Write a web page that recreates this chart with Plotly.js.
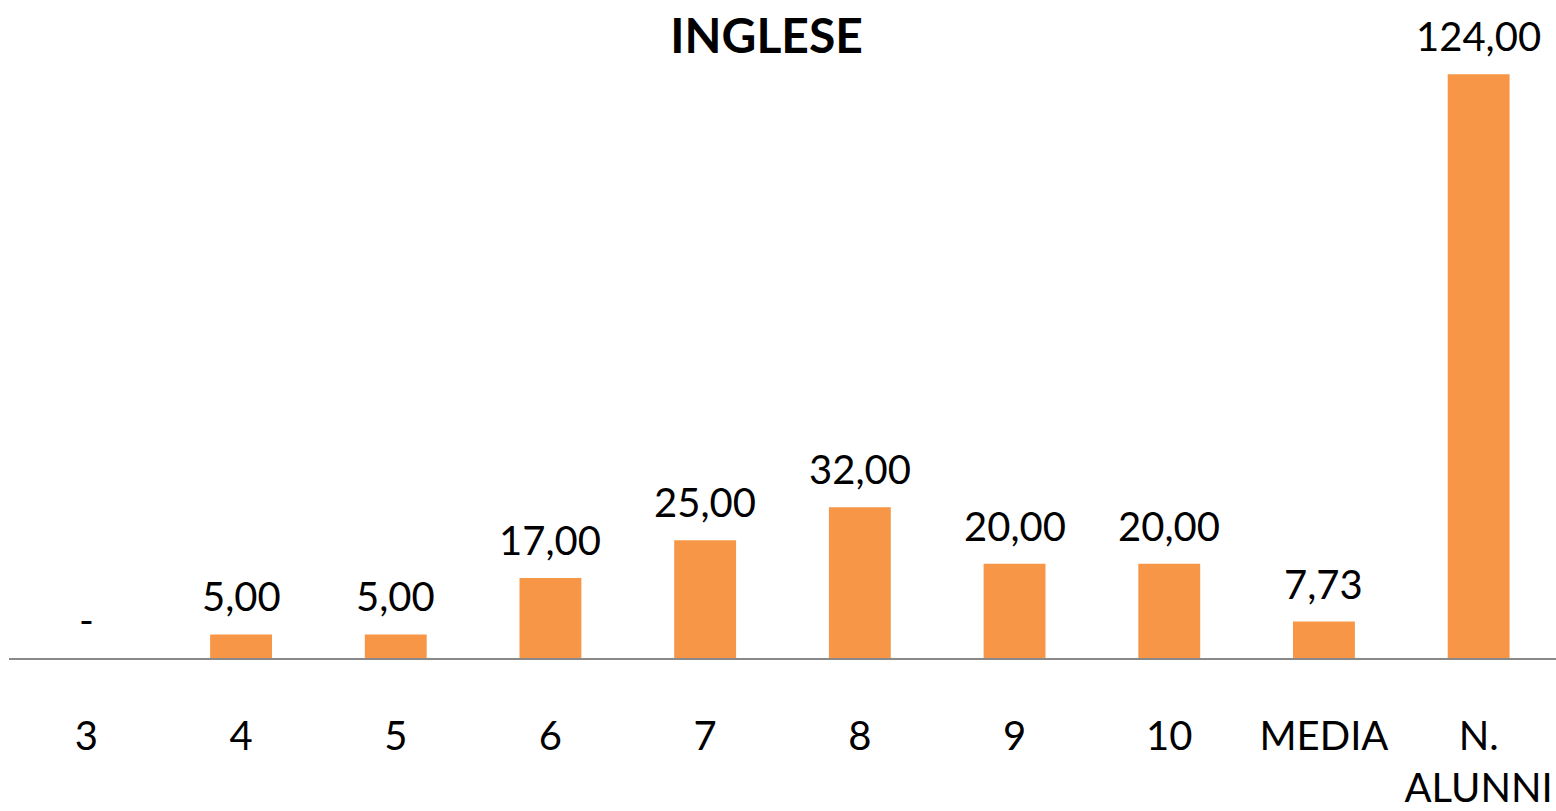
<!DOCTYPE html>
<html>
<head>
<meta charset="utf-8">
<script src="https://cdn.plot.ly/plotly-3.0.1.min.js"></script>
<style>html,body{margin:0;padding:0;background:#fff;}#chart{width:1556px;height:811px;}</style>
</head>
<body>
<div id="chart"></div>
<script>
const categories = ['3', '4', '5', '6', '7', '8', '9', '10', 'MEDIA', 'N.<br>ALUNNI'];
const values = [0, 5, 5, 17, 25, 32, 20, 20, 7.73, 124];
const chartTitle = 'INGLESE';

const labels = values.map(v => v === 0 ? '-' : v.toFixed(2).replace('.', ','));
const FONT = 'Lato, Carlito, Calibri, "Open Sans", sans-serif';

const annotations = categories.map((c, i) => ({
  x: i, y: values[i], xref: 'x', yref: 'y',
  text: labels[i], showarrow: false,
  yanchor: 'bottom', xanchor: 'center', yshift: 12,
  font: {family: FONT, size: 40, color: '#000'}
}));

const trace = {
  type: 'bar',
  x: categories,
  y: values,
  marker: {color: '#F79646'},
  hoverinfo: 'none'
};

const layout = {
  width: 1556, height: 811,
  margin: {l: 9, r: 0, t: 46, b: 153},
  paper_bgcolor: '#fff', plot_bgcolor: '#fff',
  showlegend: false,
  bargap: 0.6,
  title: {
    text: '<b>' + chartTitle + '</b>',
    x: 762 / 1556, xanchor: 'center', xref: 'paper',
    y: 1 - 36 / 811, yanchor: 'middle', yref: 'container',
    font: {family: FONT, size: 48, color: '#000'}
  },
  xaxis: {
    type: 'category',
    range: [-0.5, categories.length - 0.5],
    showline: true, linecolor: '#898989', linewidth: 2,
    showgrid: false, zeroline: false,
    ticks: 'outside', ticklen: 42, tickcolor: 'rgba(0,0,0,0)',
    tickfont: {family: FONT, size: 40, color: '#000'},
    fixedrange: true
  },
  yaxis: {
    range: [0, 130],
    visible: false, showgrid: false, zeroline: false,
    fixedrange: true
  },
  annotations: annotations,
  font: {family: FONT}
};

Plotly.newPlot('chart', [trace], layout, {displayModeBar: false, staticPlot: true});
</script>
</body>
</html>
